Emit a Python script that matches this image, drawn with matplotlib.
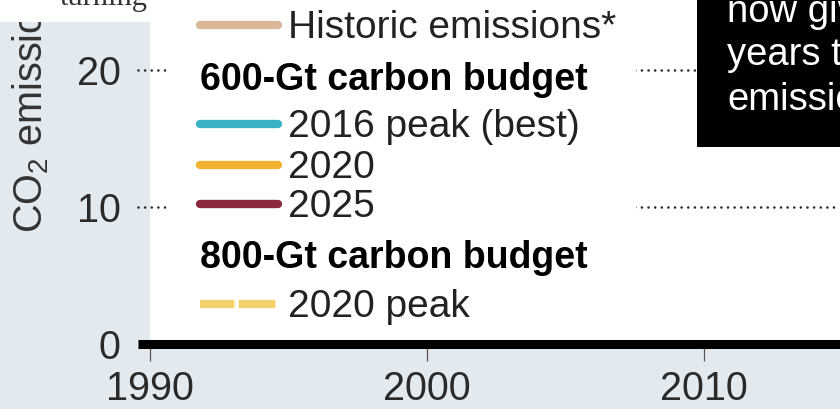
import matplotlib.pyplot as plt
from matplotlib.patches import Rectangle

plt.rcParams['font.family'] = 'Liberation Sans'
plt.rcParams['mathtext.fontset'] = 'custom'
plt.rcParams['mathtext.rm'] = 'Liberation Sans'

W, H = 840, 409
BG = '#e2e9ef'

# axis ticks
years = [1990, 2000, 2010]
year_labels = ['1990', '2000', '2010']
levels = [0, 10, 20]
level_labels = ['0', '10', '20']

# legend entries (None colour = section header)
legend_labels = ['Historic emissions*', '600-Gt carbon budget', '2016 peak (best)',
                 '2020', '2025', '800-Gt carbon budget', '2020 peak']
legend_colors = ['#d8b898', None, '#38b2c4', '#f4b232', '#8b2a3d', None, '#f6d06a']
legend_dashed = [False, False, False, False, False, False, True]

note_lines = ['now given', 'years to', 'emissions']

fig = plt.figure(figsize=(8.4, 4.09), dpi=100, facecolor=BG)
ax = fig.add_axes([150 / W, (H - 344) / H, 690 / W, 344 / H])
ax.set_facecolor('white')
xmax = 1990 + 690 / 27.7
ax.set_xlim(1990, xmax)
ax.set_ylim(0, 344 / 13.7)
for s in ax.spines.values():
    s.set_visible(False)


def ax_x(px):
    return (px - 150) / 690


def ax_y(py):
    return (344 - py) / 344


# dotted gridlines and thick zero line start a little left of the panel
x0 = 1990 - 12 / 27.7
for lv in levels[1:]:
    ax.plot([x0, xmax], [lv, lv], ls=(0, (0.01, 2.5)), lw=1.9, color='#2a2a2a',
            dash_capstyle='round', clip_on=False, zorder=1)
ax.plot([x0, xmax], [0, 0], color='black', lw=6.5, solid_capstyle='butt',
        clip_on=False, zorder=3)

ax.set_xticks(years, year_labels)
ax.set_yticks(levels, level_labels)
ax.tick_params(axis='x', direction='out', length=12, width=0.9, color='#555555',
               pad=7, labelsize=28.5, labelcolor='#2a2a2a')
ax.tick_params(axis='y', length=0, pad=21, labelsize=28.5, labelcolor='#2a2a2a')

# legend panel
ax.add_patch(Rectangle((ax_x(168), ax_y(335)), ax_x(636) - ax_x(168), ax_y(0) - ax_y(335),
                       transform=ax.transAxes, facecolor='white', edgecolor='none', zorder=2))
baselines = [38, 90, 137, 178, 217, 268, 317]
for label, color, dashed, base in zip(legend_labels, legend_colors, legend_dashed, baselines):
    if color is None:
        ax.text(ax_x(200), ax_y(base), label, transform=ax.transAxes, fontsize=27,
                fontweight='bold', color='black', va='baseline', zorder=4)
        continue
    y = ax_y(base - 13)
    ls = (0.3, (4.4, 0.55)) if dashed else '-'
    ax.plot([ax_x(200), ax_x(278)], [y, y], transform=ax.transAxes, color=color, lw=6.0,
            ls=ls, solid_capstyle='round', dash_capstyle='butt', zorder=4)
    ax.text(ax_x(288), ax_y(base), label, transform=ax.transAxes, fontsize=28,
            color='#222222', va='baseline', zorder=4)

fig.text(31 / W, 1 - 233 / H, r'CO$_\mathregular{2}$ emissions (Gt)', rotation=90,
         ha='center', va='bottom', fontsize=28.5, color='#333333', zorder=3)
fig.add_artist(Rectangle((0, 1 - 22 / H), 150 / W, 22 / H, transform=fig.transFigure,
                         facecolor='white', edgecolor='none', zorder=4))
fig.text(60 / W, 1 - 5 / H, 'turning', family='Liberation Serif', fontsize=22,
         color='#333333', va='baseline', zorder=5)

# black note box on the right
fig.add_artist(Rectangle((697 / W, 1 - 147 / H), (W - 697) / W, 147 / H,
                         transform=fig.transFigure, facecolor='black', edgecolor='none', zorder=5))
for line, base in zip(note_lines, [22, 65, 110]):
    fig.text(727 / W, 1 - base / H, line, fontsize=27.5, color='white', va='baseline', zorder=6)

fig.savefig('out.png', dpi=100, facecolor=BG)
